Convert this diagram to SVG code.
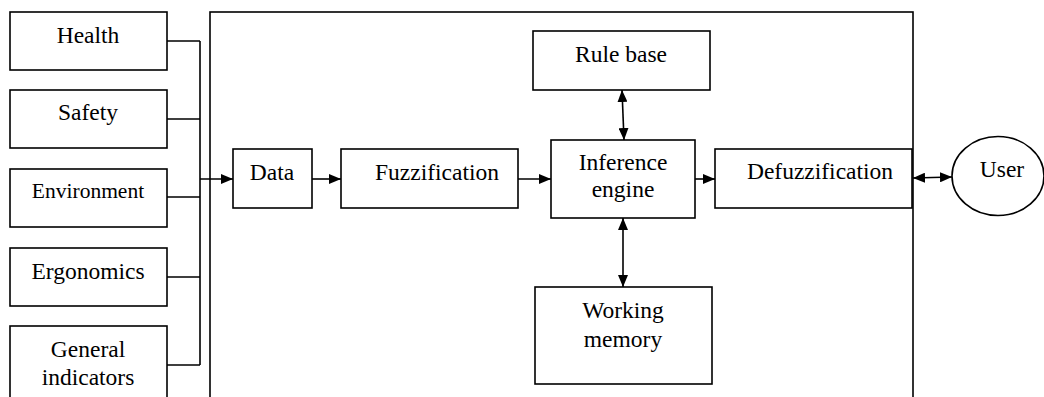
<svg xmlns="http://www.w3.org/2000/svg" width="1044" height="397" viewBox="0 0 1044 397">
<defs>
<marker id="ah" viewBox="0 0 12 10" refX="12" refY="5" markerWidth="12" markerHeight="10" markerUnits="userSpaceOnUse" orient="auto-start-reverse">
<path d="M0,0 L12,5 L0,10 Z" fill="#000"/>
</marker>
<style>
.b{fill:#fff;stroke:#000;stroke-width:1.6}
.c{fill:none;stroke:#000;stroke-width:1.6}
.t{font-family:'Liberation Serif','DejaVu Serif',serif;font-size:23.5px;fill:#000;text-anchor:middle}
</style>
</defs>
<rect width="1044" height="397" fill="#fff"/>
<g id="system"><rect class="b" x="210" y="12" width="703" height="400"/></g>
<g id="health"><rect class="b" x="10" y="12" width="157" height="58"/><text class="t" x="88" y="43">Health</text></g>
<g id="safety"><rect class="b" x="10" y="90" width="157" height="58"/><text class="t" x="88" y="120">Safety</text></g>
<g id="environment"><rect class="b" x="10" y="169" width="157" height="58"/><text class="t" x="88" y="198" style="font-size:21.5px">Environment</text></g>
<g id="ergonomics"><rect class="b" x="10" y="248" width="157" height="58"/><text class="t" x="88" y="279">Ergonomics</text></g>
<g id="general"><rect class="b" x="10" y="326" width="157" height="90"/><text class="t" x="88" y="357">General</text><text class="t" x="88" y="385">indicators</text></g>
<g id="data"><rect class="b" x="233" y="149" width="79" height="59"/><text class="t" x="272" y="180">Data</text></g>
<g id="fuzzification"><rect class="b" x="341" y="149" width="177" height="59"/><text class="t" x="437" y="180">Fuzzification</text></g>
<g id="rulebase"><rect class="b" x="533" y="31" width="177" height="59"/><text class="t" x="621" y="62">Rule base</text></g>
<g id="inference"><rect class="b" x="551" y="140" width="144" height="78"/><text class="t" x="623" y="170">Inference</text><text class="t" x="623" y="197">engine</text></g>
<g id="memory"><rect class="b" x="535" y="287" width="177" height="97"/><text class="t" x="623" y="318">Working</text><text class="t" x="623" y="347">memory</text></g>
<g id="defuzzification"><rect class="b" x="715" y="149" width="197" height="59"/><text class="t" x="820" y="179">Defuzzification</text></g>
<g id="user"><ellipse class="b" cx="998" cy="176" rx="46" ry="39.5"/><text class="t" x="1002" y="177">User</text></g>
<g id="connectors">
<path class="c" d="M167,41 H200 M167,119 H200 M167,197 H200 M167,277 H200 M167,365 H200 M200,41 V365"/>
<line class="c" x1="200" y1="179" x2="233" y2="179" marker-end="url(#ah)"/>
<line class="c" x1="312" y1="179" x2="341" y2="179" marker-end="url(#ah)"/>
<line class="c" x1="518" y1="179" x2="551" y2="179" marker-end="url(#ah)"/>
<line class="c" x1="695" y1="179" x2="715" y2="179" marker-end="url(#ah)"/>
<line class="c" x1="622" y1="90" x2="624" y2="140" marker-start="url(#ah)" marker-end="url(#ah)"/>
<line class="c" x1="623" y1="218" x2="623" y2="287" marker-start="url(#ah)" marker-end="url(#ah)"/>
<line class="c" x1="913" y1="178" x2="952" y2="177" marker-start="url(#ah)" marker-end="url(#ah)"/>
</g>
</svg>
